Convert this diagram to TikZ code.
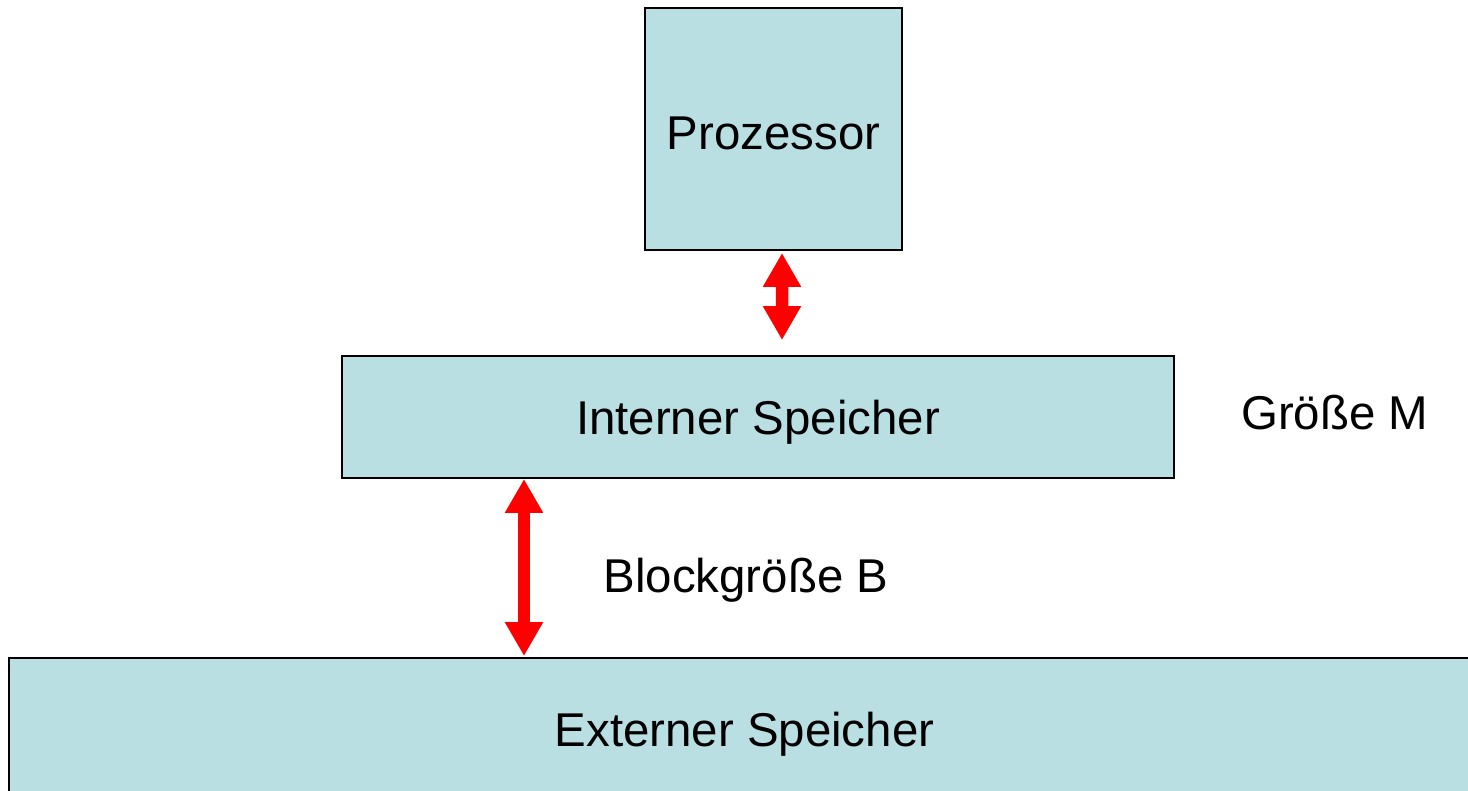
\documentclass[tikz,border=0pt]{standalone}
\usepackage{fontspec}
\setmainfont{Liberation Sans}
\usepackage{xcolor}
\usetikzlibrary{arrows.meta,positioning,calc}

\definecolor{boxfill}{RGB}{186,223,227}

\begin{document}
\begin{tikzpicture}[
    x=0.02cm, y=-0.02cm,
    box/.style={rectangle, draw=black, fill=boxfill, line width=1.1pt, inner sep=0pt,
        text depth=0pt, align=center, font=\fontsize{27}{32}\selectfont},
    label/.style={inner sep=0pt, font=\fontsize{27}{32}\selectfont},
    bus/.style={red, line width=0.25cm, {Triangle[length=0.68cm, width=0.72cm]}-{Triangle[length=0.68cm, width=0.72cm]}}
]
    \clip (0,0) rectangle (1468,791);

    \node[box, minimum width=5.14cm, minimum height=4.84cm, text height=23.5pt] (proz) at (773.5,129) {Prozessor};
    \node[box, minimum width=16.64cm, minimum height=2.44cm] (intern) at (758,417) {Interner Speicher};
    \node[box, minimum width=29.42cm, minimum height=2.84cm] (extern) at (744.5,729) {Externer Speicher};

    \node[label, right=1.32cm of intern, yshift=0.09cm] (groesse) {Größe M};
    \node[label] (block) at (746,580) {Blockgröße B};

    \draw[bus] ($(proz.south)+(8.5,2)$) -- ($(intern.north)+(24,-15)$);
    \draw[bus] ($(intern.south)+(-234,0)$) -- ($(extern.north)+(-220.5,-1)$);
\end{tikzpicture}
\end{document}
